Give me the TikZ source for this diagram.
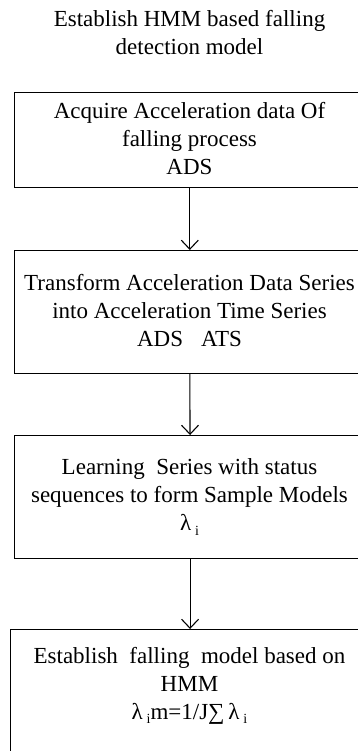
\documentclass[tikz,border=0pt]{standalone}
\usepackage{fontspec}
\setmainfont{Liberation Serif}
\usetikzlibrary{arrows.meta}
\newcommand{\subi}{\raisebox{-0.4ex}{\fontsize{14}{14}\selectfont i}}
\begin{document}
\begin{tikzpicture}[x=1pt,y=-1pt,
  box/.style={draw, line width=1.1pt, rectangle, inner sep=0pt, anchor=north west},
  txt/.style={align=center, font=\fontsize{23}{28}\selectfont, inner sep=0pt},
  arr/.style={-{Straight Barb[length=9pt,width=17pt]}, line width=1.1pt}]
\useasboundingbox (0,0) rectangle (358,751);
\clip (0,0) rectangle (358,751);
\node[txt] (title) at (189.5,32.5) {Establish HMM based falling\\detection model};
\node[box, minimum width=351.5pt, minimum height=95pt] (b1) at (13.5,92) {};
\node[box, minimum width=351.5pt, minimum height=123pt] (b2) at (13.5,250) {};
\node[box, minimum width=351pt, minimum height=123pt] (b3) at (14,435) {};
\node[box, minimum width=359pt, minimum height=125pt] (b4) at (10,629) {};
\node[txt] (t1) at (189.5,138.5) {Acquire Acceleration data Of\\falling process\\ADS};
\node[txt] (t2) at (189.5,311) {Transform Acceleration Data Series\\into Acceleration Time Series\\ADS\hspace{18pt}ATS};
\node[txt] (t3) at (189.5,497) {Learning\ \ Series with status\\sequences to form Sample Models\\λ\,\subi};
\node[txt] (t4) at (189.5,686) {Establish\ \ falling\ \ model based on\\HMM\\λ\,\subi m=1/J∑\,λ\,\subi};
\draw[arr] (b1.south) -- (b2.north);
\draw[arr] (b2.south) -- (b3.north);
\draw[arr] (b3.south) -- (b4.north);
\end{tikzpicture}
\end{document}
